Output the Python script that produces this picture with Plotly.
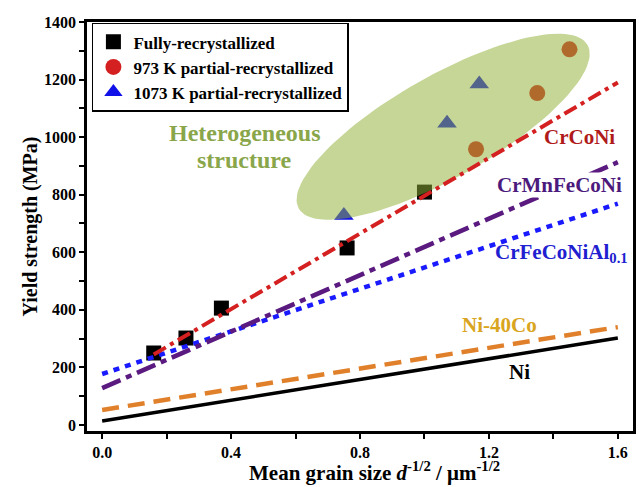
import numpy as np
import plotly.graph_objects as go

# ---- data ----
fully_x = [0.16, 0.26, 0.37, 0.76, 1.00]
fully_y = [250, 302, 406, 615, 809]
p973_x = [1.16, 1.35, 1.45]
p973_y = [958, 1153, 1305]
p1073_x = [0.75, 1.07, 1.17]
p1073_y = [728, 1048, 1185]

crconi_x = [0.16, 1.6]
crconi_y = [245, 1190]
cantor_x = [0.0, 1.6]
cantor_y = [128, 913]
al01_x = [0.0, 1.6]
al01_y = [177, 769]
ni40co_x = [0.0, 1.6]
ni40co_y = [52, 340]
ni_x = [0.0, 1.6]
ni_y = [14, 302]

x_ticks = [0.0, 0.4, 0.8, 1.2, 1.6]
y_ticks = [0, 200, 400, 600, 800, 1000, 1200, 1400]

FONT = "Liberation Serif, Times New Roman, serif"

fig = go.Figure()

# markers (drawn below the translucent ellipse)
fig.add_trace(go.Scatter(x=fully_x, y=fully_y, mode="markers", name="Fully-recrystallized",
                         marker=dict(symbol="square", size=15, color="black")))
fig.add_trace(go.Scatter(x=p973_x, y=p973_y, mode="markers", name="973 K partial-recrystallized",
                         marker=dict(symbol="circle", size=16, color="#d42020")))
fig.add_trace(go.Scatter(x=p1073_x, y=p1073_y, mode="markers", name="1073 K partial-recrystallized",
                         marker=dict(symbol="triangle-up", size=17, color="#1010e8")))

# translucent green ellipse (heterogeneous structure region)
sx, sy = 322.5, 0.28786  # px per data unit (x, y)
cx, cy = 1.058, 1036.0
a_px, b_px, th = 166.0, 51.0, np.deg2rad(29.5)
t = np.linspace(0, 2 * np.pi, 121)
dxp = a_px * np.cos(t) * np.cos(th) - b_px * np.sin(t) * np.sin(th)
dyp = a_px * np.cos(t) * np.sin(th) + b_px * np.sin(t) * np.cos(th)
fig.add_trace(go.Scatter(x=cx + dxp / sx, y=cy + dyp / sy, mode="lines", fill="toself",
                         fillcolor="rgba(143,177,56,0.52)", line=dict(width=0),
                         hoverinfo="skip", showlegend=False))

# fit lines
fig.add_trace(go.Scatter(x=ni_x, y=ni_y, mode="lines", showlegend=False,
                         line=dict(color="black", width=3.5)))
fig.add_trace(go.Scatter(x=ni40co_x, y=ni40co_y, mode="lines", showlegend=False,
                         line=dict(color="#e0802a", width=4.5, dash="17px,9px")))
fig.add_trace(go.Scatter(x=al01_x, y=al01_y, mode="lines", showlegend=False,
                         line=dict(color="#1a1aff", width=4.5, dash="6px,6px")))
fig.add_trace(go.Scatter(x=cantor_x, y=cantor_y, mode="lines", showlegend=False,
                         line=dict(color="#5a1a80", width=4.5, dash="20px,6px,6px,6px")))
fig.add_trace(go.Scatter(x=crconi_x, y=crconi_y, mode="lines", showlegend=False,
                         line=dict(color="#d42020", width=4, dash="14px,5px,4px,5px")))

ann = [
    dict(x=1.482, y=1000, text="CrCoNi", color="#b01a1a", size=21, bg=None),
    dict(x=1.42, y=834, text="CrMnFeCoNi", color="#4b1a7c", size=21, bg="white"),
    dict(x=1.425, y=597, text="CrFeCoNiAl<sub>0.1</sub>", color="#2020d0", size=21, bg=None),
    dict(x=1.234, y=347, text="Ni-40Co", color="#d9a520", size=21, bg=None),
    dict(x=1.296, y=184, text="Ni", color="black", size=21, bg=None),
    dict(x=0.443, y=1014, text="Heterogeneous", color="#8aa64a", size=24, bg=None),
    dict(x=0.443, y=920, text="structure", color="#8aa64a", size=24, bg=None),
]
for a in ann:
    fig.add_annotation(x=a["x"], y=a["y"], text=a["text"], showarrow=False,
                       bgcolor=a["bg"], borderpad=0,
                       font=dict(family=FONT, size=a["size"], color=a["color"], weight="bold"))

# x-axis title placed as a paper annotation for exact vertical position
fig.add_annotation(xref="paper", yref="paper", x=0.527, y=-0.099, xanchor="center", yanchor="middle",
                   text="Mean grain size <i>d</i><sup>-1/2</sup> / μm<sup>-1/2</sup>", showarrow=False,
                   font=dict(family=FONT, size=21, color="black", weight="bold"))

axis_common = dict(showline=True, linecolor="black", linewidth=2.5, mirror=True,
                   ticks="outside", ticklen=5, tickwidth=2, tickcolor="black",
                   showgrid=False, zeroline=False, automargin=False,
                   tickfont=dict(family=FONT, size=16, color="black", weight="bold"))

fig.update_layout(
    width=639, height=487,
    margin=dict(l=87, r=6, t=22, b=56),
    paper_bgcolor="white", plot_bgcolor="white",
    font=dict(family=FONT, color="black"),
    xaxis=dict(range=[-0.047, 1.647], tickvals=x_ticks, ticktext=["0.0", "0.4", "0.8", "1.2", "1.6"],
               minor=dict(ticks="outside", ticklen=5, tickwidth=2, tickcolor="black", dtick=0.2),
               **axis_common),
    yaxis=dict(range=[-21, 1400], tickvals=y_ticks,
               minor=dict(ticks="outside", ticklen=5, tickwidth=2, tickcolor="black", dtick=100),
               title=dict(text="Yield strength (MPa)",
                          font=dict(family=FONT, size=20, color="black", weight="bold"), standoff=2),
               **axis_common),
    legend=dict(x=0.009, y=0.998, xanchor="left", yanchor="top",
                bgcolor="white", bordercolor="black", borderwidth=1.5,
                font=dict(family=FONT, size=17, color="black", weight="bold"),
                tracegroupgap=0, itemwidth=30),
    showlegend=True,
)

fig.write_html("out.html", config={"displayModeBar": False},
               post_script="document.body.style.margin='0';document.body.style.overflow='hidden';")
